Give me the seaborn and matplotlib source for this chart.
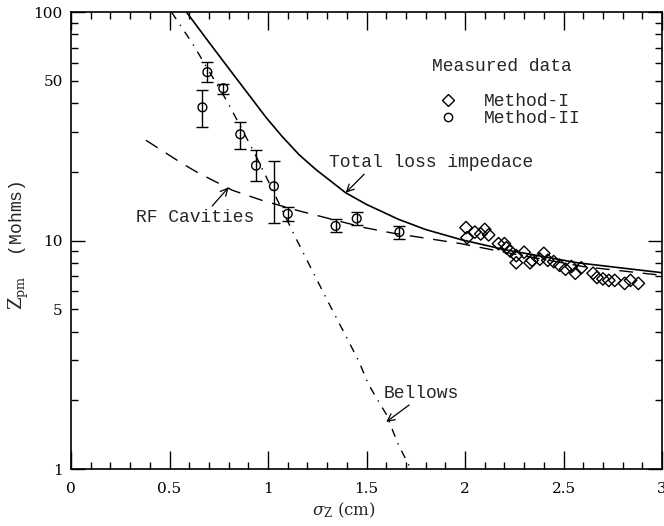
import numpy as np
import pandas as pd
import matplotlib
matplotlib.use('Agg')
from matplotlib import pyplot as plt
from matplotlib.ticker import FixedLocator, FixedFormatter
from matplotlib.lines import Line2D
import seaborn as sns

# Measured data, Method-I (diamonds)
sigma_m1 = [2.005, 2.01, 2.05, 2.08, 2.10, 2.12, 2.17, 2.20, 2.21, 2.23, 2.26, 2.26, 2.30, 2.33,
            2.34, 2.38, 2.40, 2.42, 2.45, 2.48, 2.51, 2.54, 2.56, 2.59, 2.65, 2.67, 2.70, 2.73,
            2.76, 2.81, 2.84, 2.88]
z_m1 = [11.4, 10.3, 10.9, 10.7, 11.2, 10.6, 9.7, 9.7, 9.3, 9.0, 8.6, 8.0, 8.9, 8.0,
        8.2, 8.3, 8.8, 8.2, 8.1, 7.8, 7.5, 7.7, 7.2, 7.6, 7.2, 6.9, 6.8, 6.7,
        6.7, 6.5, 6.7, 6.5]

# Measured data, Method-II (circles with error bars)
sigma_m2 = [0.667, 0.692, 0.773, 0.859, 0.939, 1.03, 1.10, 1.343, 1.45, 1.667]
z_m2 = [38.3, 54.6, 46.4, 29.2, 21.3, 17.3, 13.1, 11.6, 12.5, 10.9]
z_m2_lo = [31.3, 49.3, 44.0, 25.3, 18.3, 12.0, 12.2, 10.9, 11.7, 10.2]
z_m2_hi = [45.5, 60.3, 48.6, 33.2, 24.9, 22.4, 14.0, 12.4, 13.3, 11.6]

# Model curves
sigma_total = [0.586, 0.692, 0.788, 0.904, 0.99, 1.071, 1.157, 1.242, 1.394, 1.5, 1.662, 1.798,
               1.98, 2.202, 2.571, 3.0]
z_total = [100, 75.4, 58.6, 43.3, 34.6, 28.6, 23.8, 20.5, 16.2, 14.4, 12.4, 11.2,
           10.1, 9.13, 8.0, 7.24]

sigma_rf = [0.38, 0.566, 0.65, 0.82, 0.97, 1.157, 1.49, 1.63, 1.98, 2.2, 2.6, 3.0]
z_rf = [27.5, 21.7, 19.7, 16.6, 15.0, 13.5, 11.4, 10.8, 9.7, 8.9, 7.7, 7.05]

sigma_bellows = [0.51, 0.616, 0.79, 0.93, 1.0, 1.14, 1.3, 1.46, 1.51, 1.6, 1.66, 1.73]
z_bellows = [100, 73, 41, 24.3, 18.3, 10.3, 5.5, 2.98, 2.35, 1.74, 1.29, 0.98]

x_ticks = [0, 0.5, 1, 1.5, 2, 2.5, 3]
x_tick_labels = ['0', '0.5', '1', '1.5', '2', '2.5', '3']

MONO = 'Liberation Mono'
SERIF = 'DejaVu Serif'

sns.set_theme(style="ticks")
plt.rcParams['font.family'] = SERIF
plt.rcParams['mathtext.fontset'] = 'dejavuserif'
plt.rcParams['axes.linewidth'] = 1.2

fig = plt.figure(figsize=(6.64, 5.26), dpi=100)
ax = fig.add_axes([0.107, 0.108, 0.890, 0.869])

# Curves
sns.lineplot(x=sigma_total, y=z_total, ax=ax, color='black', lw=1.2, sort=False, estimator=None)
sns.lineplot(x=sigma_rf, y=z_rf, ax=ax, color='black', lw=1.0, sort=False, estimator=None,
             linestyle=(0, (10, 7)))
sns.lineplot(x=sigma_bellows, y=z_bellows, ax=ax, color='black', lw=1.0, sort=False, estimator=None,
             linestyle=(0, (6, 5, 1, 5)))

# Method-II with error bars
z_m2_arr = np.array(z_m2)
yerr = [z_m2_arr - np.array(z_m2_lo), np.array(z_m2_hi) - z_m2_arr]
ax.errorbar(sigma_m2, z_m2, yerr=yerr, fmt='none', ecolor='black', elinewidth=1.0,
            capsize=4, capthick=1.0)
sns.scatterplot(x=sigma_m2, y=z_m2, ax=ax, marker='o', s=40, facecolor='none',
                edgecolor='black', linewidth=1.0)

# Method-I
sns.scatterplot(x=sigma_m1, y=z_m1, ax=ax, marker='D', s=40, facecolor='none',
                edgecolor='black', linewidth=1.0)

ax.set_yscale('log')
ax.set_xlim(0, 3)
ax.set_ylim(1, 100)

ax.xaxis.set_major_locator(FixedLocator(x_ticks))
ax.xaxis.set_major_formatter(FixedFormatter(x_tick_labels))
ax.xaxis.set_minor_locator(FixedLocator(np.arange(0, 3.01, 0.1)))
ax.yaxis.set_major_locator(FixedLocator([1, 10, 100]))
ax.yaxis.set_major_formatter(FixedFormatter(['1', '10', '100']))
minor_y = [2, 3, 4, 5, 6, 7, 8, 9, 20, 30, 40, 50, 60, 70, 80, 90]
ax.yaxis.set_minor_locator(FixedLocator(minor_y))
ax.yaxis.set_minor_formatter(FixedFormatter(['', '', '', '5', '', '', '', '', '', '', '', '50', '', '', '', '']))

ax.tick_params(axis='both', which='both', direction='in', top=True, right=True, colors='black',
               labelsize=11, width=1.0)
ax.tick_params(axis='x', which='major', length=13, pad=9)
ax.tick_params(axis='x', which='minor', length=5)
ax.tick_params(axis='y', which='major', length=10, pad=6)
ax.tick_params(axis='y', which='minor', length=5, pad=6)
for spine in ax.spines.values():
    spine.set_color('black')

ax.set_xlabel(r'$\sigma_{\rm Z}$ (cm)', fontsize=12, family=SERIF)
ax.xaxis.set_label_coords(0.462, -0.068)
ax.set_ylabel(r'$\rm Z_{pm}$  (Mohms)', fontsize=13, family=MONO)
ax.yaxis.set_label_coords(-0.068, 0.49)

# Annotations
arrow = dict(arrowstyle='->', color='black', lw=0.9, shrinkA=0, shrinkB=0)
ax.annotate('Total loss impedace', xy=(1.394, 16.2), xytext=(1.308, 22.0), fontsize=13,
            family=MONO, ha='left', va='center', arrowprops=dict(arrow, relpos=(0.19, 0.0)))
ax.annotate('RF Cavities', xy=(0.80, 17.1), xytext=(0.33, 12.6), fontsize=13,
            family=MONO, ha='left', va='center', arrowprops=dict(arrow, relpos=(0.62, 1.0)))
ax.annotate('Bellows', xy=(1.60, 1.61), xytext=(1.586, 2.15), fontsize=13,
            family=MONO, ha='left', va='center', arrowprops=dict(arrow, relpos=(0.4, 0.0)))

# Legend
ax.text(0.61, 0.880, 'Measured data', transform=ax.transAxes, fontsize=13, family=MONO,
        ha='left', va='center')
handles = [Line2D([], [], marker='D', linestyle='none', markerfacecolor='none',
                  markeredgecolor='black', markersize=6),
           Line2D([], [], marker='o', linestyle='none', markerfacecolor='none',
                  markeredgecolor='black', markersize=6)]
ax.legend(handles=handles, labels=['Method-I', 'Method-II'],
          loc='upper left', bbox_to_anchor=(0.622, 0.822), frameon=False,
          prop={'family': MONO, 'size': 13}, handlelength=1.0, handletextpad=1.5,
          labelspacing=0.0, borderpad=0, borderaxespad=0)

fig.savefig('out.png', dpi=100, facecolor='white')
